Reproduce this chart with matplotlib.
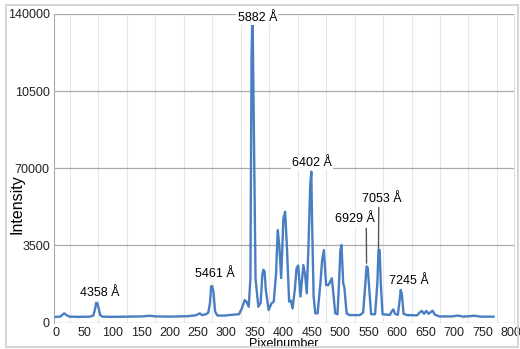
import matplotlib
matplotlib.use("Agg")
import matplotlib.pyplot as plt
from matplotlib.patches import Rectangle

plt.rcParams['font.family'] = ['Liberation Sans', 'DejaVu Sans']

# Spektrum
pixel = [0, 8, 12, 15, 19, 24, 39, 60, 66, 69, 71, 73, 75, 78, 82, 100, 130, 151, 166, 176,
         201, 231, 246, 253, 257, 264, 268, 271, 273, 275, 277, 280, 284, 297, 312, 322, 327,
         332, 335, 339, 342, 344, 345, 346, 348, 351, 356, 360, 363, 365, 367, 369, 374,
         379, 383, 387, 390, 393, 396, 400, 403, 406, 410, 413, 416, 420, 423, 426, 430,
         435, 438, 441, 444, 447, 449, 450, 453, 456, 460, 465, 468, 471, 475, 479, 483, 485,
         487, 491, 495, 498, 500, 502, 505, 507, 511, 516, 534, 540, 544, 546, 548, 550, 554,
         561, 565, 567, 569, 571, 574, 587, 590, 593, 596, 601, 604, 606, 608, 611, 617, 635,
         639, 643, 647, 651, 655, 662, 666, 674, 696, 706, 716, 736, 746, 769]
intensity = [2600, 2700, 3600, 4200, 3400, 2700, 2600, 2700, 3200, 6000, 9000, 8800, 7000, 3500, 2700,
             2600, 2700, 2800, 3100, 2800, 2700, 2900, 3300, 4200, 3400, 3800, 4500, 9000,
             16500, 16500, 14000, 5000, 3200, 3200, 3600, 3800, 6500, 10200, 9500, 7200, 20000,
             120000, 135000, 135000, 90000, 20000, 7200, 9000, 22000, 24000, 23000, 15000,
             5700, 8700, 9500, 22000, 42000, 34000, 20200, 47400, 50300, 35000, 9500, 10000,
             6400, 15000, 24600, 25900, 11800, 26100, 22000, 13300, 35000, 62000, 68500, 50000,
             12000, 4200, 4200, 18000, 28400, 32900, 17000, 17000, 19000, 20100, 15000, 4200,
             3800, 20000, 32900, 35200, 17800, 16000, 4200, 3400, 3400, 4500, 18000, 25500, 25000,
             18000, 3800, 3800, 18000, 33000, 33000, 18000, 3800, 3500, 5000, 6000, 4000, 3500,
             10000, 14800, 13000, 4000, 3400, 3300, 4500, 5300, 4000, 5300, 4000, 5400, 3600,
             2800, 2800, 3200, 2700, 3100, 2700, 2700]

y_ticks = [0, 35000, 70000, 105000, 140000]
y_labels = ["0", "3500", "70000", "10500", "140000"]
x_ticks = list(range(0, 801, 50))

# Beschriftungen: Text und Textposition (x, y)
linien = ["4358 Å", "5461 Å", "5882 Å", "6402 Å", "6929 Å", "7053 Å", "7245 Å"]
text_pos = [(78, 13600), (280, 22000), (354, 138200), (450, 72600),
            (526, 46800), (573, 56200), (620, 18900)]

fig = plt.figure(figsize=(5.2, 3.49), dpi=100)
ax = fig.add_axes([54 / 520, 26.4 / 349, 460 / 520, 308.6 / 349])

ax.plot(pixel, intensity, color="#4a7ec3", linewidth=1.7, zorder=3)

ax.set_xlim(-3, 805)
ax.set_ylim(0, 140000)
ax.set_xticks(x_ticks)
ax.set_xticks(range(0, 801, 25), minor=True)
ax.set_yticks(y_ticks)
ax.set_yticklabels(y_labels)
ax.tick_params(axis="both", length=0, labelsize=9, colors="#222222")
ax.tick_params(axis="x", pad=3)
ax.tick_params(axis="y", pad=3)
ax.tick_params(which="minor", length=0)

ax.grid(axis="x", which="minor", color="#e6e6e6", linewidth=0.8)
ax.grid(axis="y", which="major", color="#aaaaaa", linewidth=0.9)
ax.set_axisbelow(True)
for s in ["top", "bottom"]:
    ax.spines[s].set_visible(False)
ax.spines["left"].set_color("#aaaaaa")
ax.spines["right"].set_color("#dddddd")

ax.set_xlabel("Pixelnumber", fontsize=9)
ax.xaxis.set_label_coords(0.5, -0.051)
ax.set_ylabel("Intensity", fontsize=11.5)
ax.yaxis.set_label_coords(-0.064, 0.385)

box = dict(facecolor="white", edgecolor="none", pad=1)
for name, (tx, ty) in zip(linien, text_pos):
    if name == "6929 Å":
        ax.annotate(name, xy=(546, 26900), xytext=(tx, ty), ha="center", va="center",
                    fontsize=9, bbox=box, zorder=4,
                    arrowprops=dict(arrowstyle="-", color="#555555", lw=1,
                                    relpos=(0.78, 0), shrinkA=1, shrinkB=0))
    elif name == "7053 Å":
        ax.annotate(name, xy=(567, 33700), xytext=(tx, ty), ha="center", va="center",
                    fontsize=9, bbox=box, zorder=4,
                    arrowprops=dict(arrowstyle="-", color="#555555", lw=1,
                                    relpos=(0.42, 0), shrinkA=1, shrinkB=0))
    else:
        ax.text(tx, ty, name, ha="center", va="center", fontsize=9, bbox=box, zorder=4)

# Rahmen um die Grafik
fig.patches.append(Rectangle((6 / 520, 2 / 349), 512 / 520, 342 / 349,
                             transform=fig.transFigure, fill=False,
                             edgecolor="#d6d6d6", linewidth=1.5))

fig.savefig("out.png", dpi=100)
